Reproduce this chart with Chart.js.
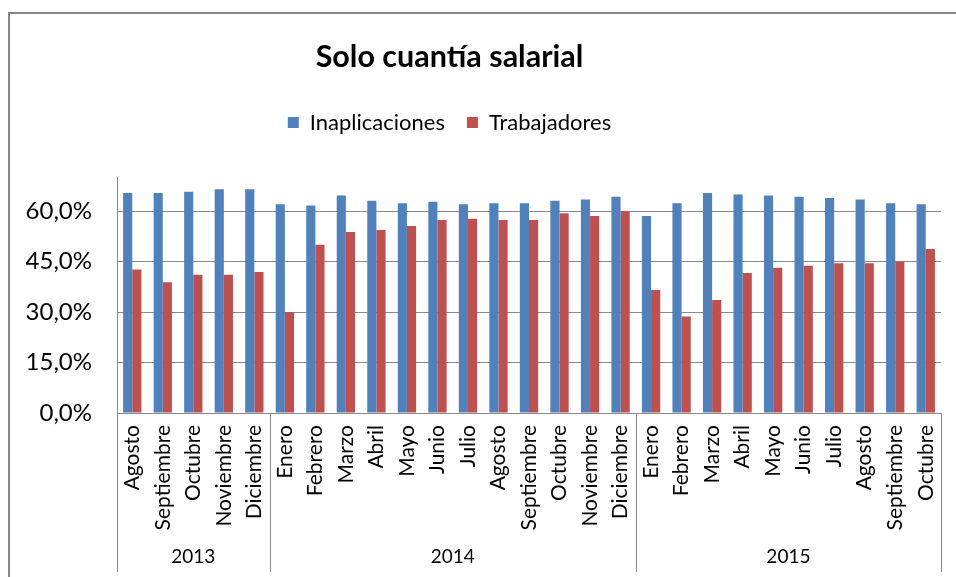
<!DOCTYPE html>
<html>
<head>
<meta charset="utf-8">
<script src="https://cdn.jsdelivr.net/npm/chart.js@4.4.0/dist/chart.umd.min.js"></script>
<style>
  html, body { margin: 0; padding: 0; background: #fff; overflow: hidden; width: 956px; height: 577px; }
  #frame { position: absolute; left: 8px; top: 12px; width: 1000px; height: 700px; border-left: 2px solid #878787; border-top: 2px solid #878787; }
  #chart { position: absolute; left: -42px; top: 0; }
</style>
</head>
<body>
<div id="frame"></div>
<canvas id="chart" width="998" height="577"></canvas>
<script>
const months = ['Agosto', 'Septiembre', 'Octubre', 'Noviembre', 'Diciembre',
  'Enero', 'Febrero', 'Marzo', 'Abril', 'Mayo', 'Junio', 'Julio', 'Agosto', 'Septiembre', 'Octubre', 'Noviembre', 'Diciembre',
  'Enero', 'Febrero', 'Marzo', 'Abril', 'Mayo', 'Junio', 'Julio', 'Agosto', 'Septiembre', 'Octubre'];
const years = ['2013', '2014', '2015'];
const yearStart = [0, 5, 17];   // first month index for each year
const inaplicaciones = [65.4, 65.4, 65.8, 66.5, 66.5,
  62.1, 61.7, 64.7, 63.1, 62.4, 62.8, 62.1, 62.4, 62.4, 63.1, 63.5, 64.3,
  58.6, 62.4, 65.4, 65.0, 64.7, 64.3, 63.9, 63.5, 62.4, 62.1];
const trabajadores = [42.7, 38.9, 41.1, 41.1, 41.9,
  30.0, 50.0, 53.8, 54.4, 55.6, 57.4, 57.8, 57.4, 57.4, 59.4, 58.6, 60.1,
  36.6, 28.7, 33.6, 41.6, 43.2, 43.8, 44.5, 44.5, 45.0, 48.8];

const FONT = 'Lato';
const GRID = '#8a8a8a';

// extra room between legend and plot
const legendGap = {
  id: 'legendGap',
  beforeInit(chart) {
    const fit = chart.legend.fit;
    chart.legend.fit = function () { fit.call(this); this.height += 34; };
  }
};

// year row under the month labels
const yearRow = {
  id: 'yearRow',
  afterDraw(chart) {
    const x = chart.scales.x, area = chart.chartArea, ctx = chart.ctx;
    const edge = i => {
      if (i <= 0) return area.left;
      if (i >= months.length) return area.right;
      return (x.getPixelForValue(i - 1) + x.getPixelForValue(i)) / 2;
    };
    ctx.save();
    ctx.strokeStyle = GRID; ctx.lineWidth = 1;
    const bounds = yearStart.concat([months.length]);
    bounds.forEach(b => {
      const px = Math.round(edge(b)) + 0.5;
      ctx.beginPath(); ctx.moveTo(px, area.bottom); ctx.lineTo(px, 572); ctx.stroke();
    });
    ctx.fillStyle = '#000'; ctx.font = '19px ' + FONT;
    ctx.textAlign = 'center'; ctx.textBaseline = 'middle';
    years.forEach((y, i) => {
      const l = edge(bounds[i]), r = edge(bounds[i + 1]);
      ctx.fillText(y, (l + r) / 2, 557);
    });
    ctx.restore();
  }
};

new Chart(document.getElementById('chart'), {
  type: 'bar',
  data: {
    labels: months,
    datasets: [
      { label: 'Inaplicaciones', data: inaplicaciones, backgroundColor: '#4F81BD', categoryPercentage: 0.6, barPercentage: 1 },
      { label: 'Trabajadores', data: trabajadores, backgroundColor: '#C0504D', categoryPercentage: 0.6, barPercentage: 1 }
    ]
  },
  options: {
    responsive: false,
    animation: false,
    devicePixelRatio: 1,
    layout: { padding: { left: 0, right: 15, top: 0, bottom: 0 } },
    plugins: {
      title: { display: true, text: 'Solo cuantía salarial', color: '#000',
        font: { family: FONT, size: 30.5, weight: 'bold' }, padding: { top: 39, bottom: 14 } },
      legend: { position: 'top',
        labels: { color: '#000', font: { family: FONT, size: 22 }, boxWidth: 11, boxHeight: 11, padding: 22 } },
      tooltip: { enabled: false }
    },
    scales: {
      x: {
        grid: { display: false, drawTicks: false },
        border: { display: true, color: GRID },
        ticks: { autoSkip: false, maxRotation: 90, minRotation: 90, padding: 12, color: '#000', font: { family: FONT, size: 21 } },
        afterFit: s => { s.height = 164; s.paddingLeft = 0; s.paddingRight = 0; }
      },
      y: {
        min: 0, max: 70,
        grid: { color: GRID, drawTicks: false },
        border: { display: true, color: GRID },
        ticks: { stepSize: 15, includeBounds: false, padding: 25, color: '#000', font: { family: FONT, size: 24 },
          callback: v => v.toFixed(1).replace('.', ',') + '%' },
        afterFit: s => { s.width = 159; }
      }
    }
  },
  plugins: [legendGap, yearRow]
});
</script>
</body>
</html>
